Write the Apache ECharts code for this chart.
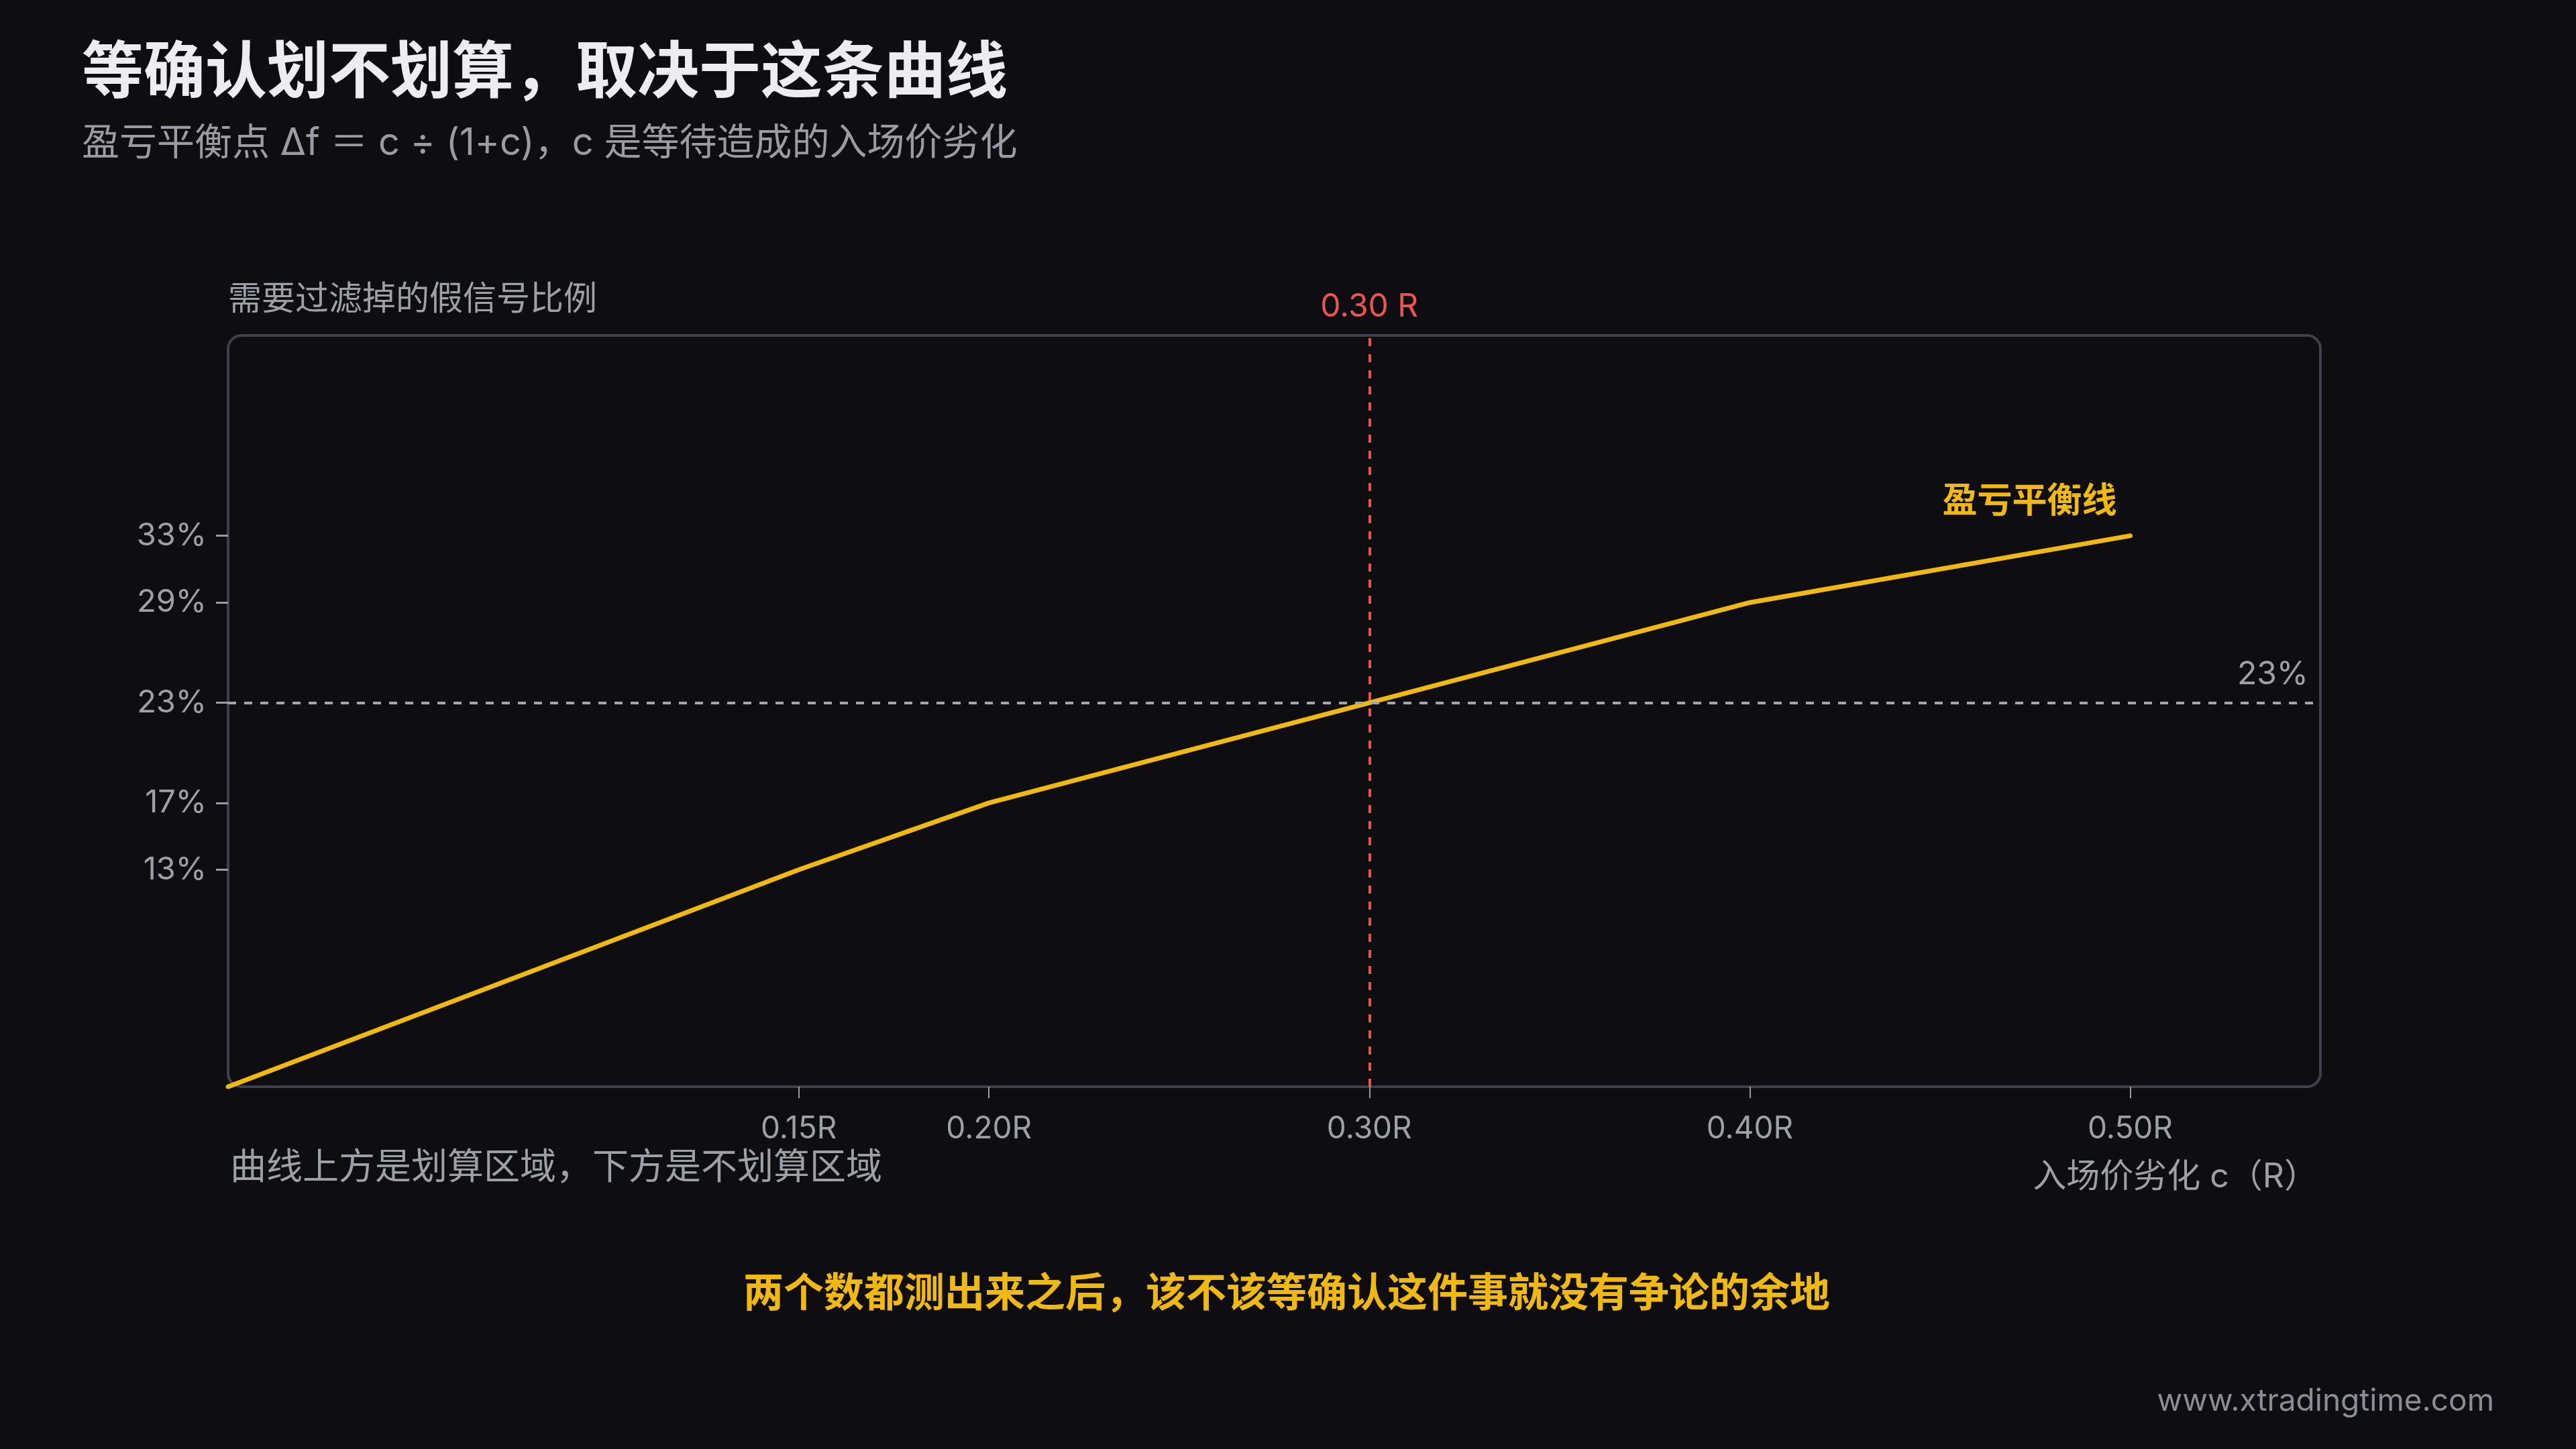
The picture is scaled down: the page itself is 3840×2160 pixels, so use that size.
<!DOCTYPE html>
<html>
<head>
<meta charset="utf-8">
<style>
  html, body { margin: 0; padding: 0; background: #0e0e12; }
  #chart { width: 3840px; height: 2160px; }
</style>
<script src="https://cdn.jsdelivr.net/npm/echarts@6/dist/echarts.min.js"></script>
</head>
<body>
<div id="chart"></div>
<script>
// ---- data ----
const cValues = [0, 0.15, 0.20, 0.30, 0.40, 0.50];          // entry-price deterioration c (R)
const breakEvenPct = [0, 13, 17, 23, 29, 33];                // fake-signal filter ratio needed (%)
const xTickValues = [0.15, 0.20, 0.30, 0.40, 0.50];
const yTickValues = [13, 17, 23, 29, 33];
const markC = 0.30;
const markPct = 23;
const seriesName = '盈亏平衡线';

const FONT = "Inter, 'Noto Sans CJK SC', sans-serif";
const GRAY = '#9ea0a8';
const YELLOW = '#f2b90d';
const RED = '#ec5450';

const chart = echarts.init(document.getElementById('chart'));
const lineData = cValues.map((c, i) => [c, breakEvenPct[i]]);

const option = {
  backgroundColor: '#0e0e12',
  animation: false,
  grid: { left: 340, right: 381, top: 500, bottom: 540, containLabel: false },
  xAxis: {
    type: 'value', min: 0, max: 0.55,
    axisLine: { show: false },
    splitLine: { show: false },
    axisTick: { show: true, length: 17, customValues: xTickValues, lineStyle: { color: '#9a9ca4', width: 2 } },
    axisLabel: { customValues: xTickValues, color: GRAY, fontSize: 46, fontFamily: FONT, margin: 40,
      formatter: v => v.toFixed(2) + 'R' }
  },
  yAxis: {
    type: 'value', min: 0, max: 45,
    axisLine: { show: false },
    splitLine: { show: false },
    axisTick: { show: true, length: 18, customValues: yTickValues, lineStyle: { color: '#9a9ca4', width: 3 } },
    axisLabel: { customValues: yTickValues, color: GRAY, fontSize: 47, fontFamily: FONT, margin: 32,
      formatter: v => v + '%' }
  },
  graphic: [
    { type: 'rect', z: 0, shape: { x: 340, y: 500, width: 3119, height: 1120, r: 20 },
      style: { fill: 'none', stroke: '#3e414a', lineWidth: 4 } },
    { type: 'text', x: 122, y: 110, style: { text: '等确认划不划算，取决于这条曲线', fill: '#ececf1',
      font: "bold 92px " + FONT, align: 'left', verticalAlign: 'middle', textAlign: 'left', textVerticalAlign: 'middle' } },
    { type: 'text', x: 122, y: 214, style: { text: '盈亏平衡点 Δf ＝ c ÷ (1+c)，c 是等待造成的入场价劣化', fill: '#9b9ca3',
      font: "56px " + FONT, align: 'left', verticalAlign: 'middle', textAlign: 'left', textVerticalAlign: 'middle' } },
    { type: 'text', x: 340, y: 447, style: { text: '需要过滤掉的假信号比例', fill: GRAY,
      font: "50px " + FONT, align: 'left', verticalAlign: 'middle', textAlign: 'left', textVerticalAlign: 'middle' } },
    { type: 'text', x: 343, y: 1742, style: { text: '曲线上方是划算区域，下方是不划算区域', fill: GRAY,
      font: "54px " + FONT, align: 'left', verticalAlign: 'middle', textAlign: 'left', textVerticalAlign: 'middle' } },
    { type: 'text', x: 3455, y: 1755, style: { text: '入场价劣化 c（R）', fill: GRAY,
      font: "50px " + FONT, align: 'right', verticalAlign: 'middle', textAlign: 'right', textVerticalAlign: 'middle' } },
    { type: 'text', x: 1918, y: 1930, style: { text: '两个数都测出来之后，该不该等确认这件事就没有争论的余地', fill: YELLOW,
      font: "bold 60px " + FONT, align: 'center', verticalAlign: 'middle', textAlign: 'center', textVerticalAlign: 'middle' } },
    { type: 'text', x: 3718, y: 2089, style: { text: 'www.xtradingtime.com', fill: '#8a8d96',
      font: "46px " + FONT, align: 'right', verticalAlign: 'middle', textAlign: 'right', textVerticalAlign: 'middle' } }
  ],
  series: [{
    name: seriesName,
    type: 'line',
    z: 3,
    data: lineData,
    showSymbol: false,
    symbol: 'none',
    smooth: false,
    lineStyle: { color: YELLOW, width: 7, cap: 'round', join: 'round' },
    markLine: {
      silent: true, symbol: 'none',
      data: [
        { xAxis: markC,
          lineStyle: { color: RED, type: [12, 12], width: 4 },
          label: { show: true, position: 'end', distance: 18, formatter: markC.toFixed(2) + ' R',
            color: RED, fontSize: 48, fontFamily: FONT } },
        { yAxis: markPct,
          lineStyle: { color: '#a3a5ad', type: [12, 12], width: 4 },
          label: { show: true, position: 'insideEndTop', distance: 18, formatter: markPct + '%',
            color: GRAY, fontSize: 48, fontFamily: FONT } }
      ]
    },
    markPoint: {
      symbol: 'circle', symbolSize: 0, silent: true,
      data: [{ coord: [cValues[cValues.length - 1], breakEvenPct[breakEvenPct.length - 1]],
        label: { show: true, position: 'inside', offset: [-150, -50], formatter: seriesName,
          color: YELLOW, fontSize: 52, fontWeight: 'bold', fontFamily: FONT } }]
    }
  }]
};
chart.setOption(option);
</script>
</body>
</html>
